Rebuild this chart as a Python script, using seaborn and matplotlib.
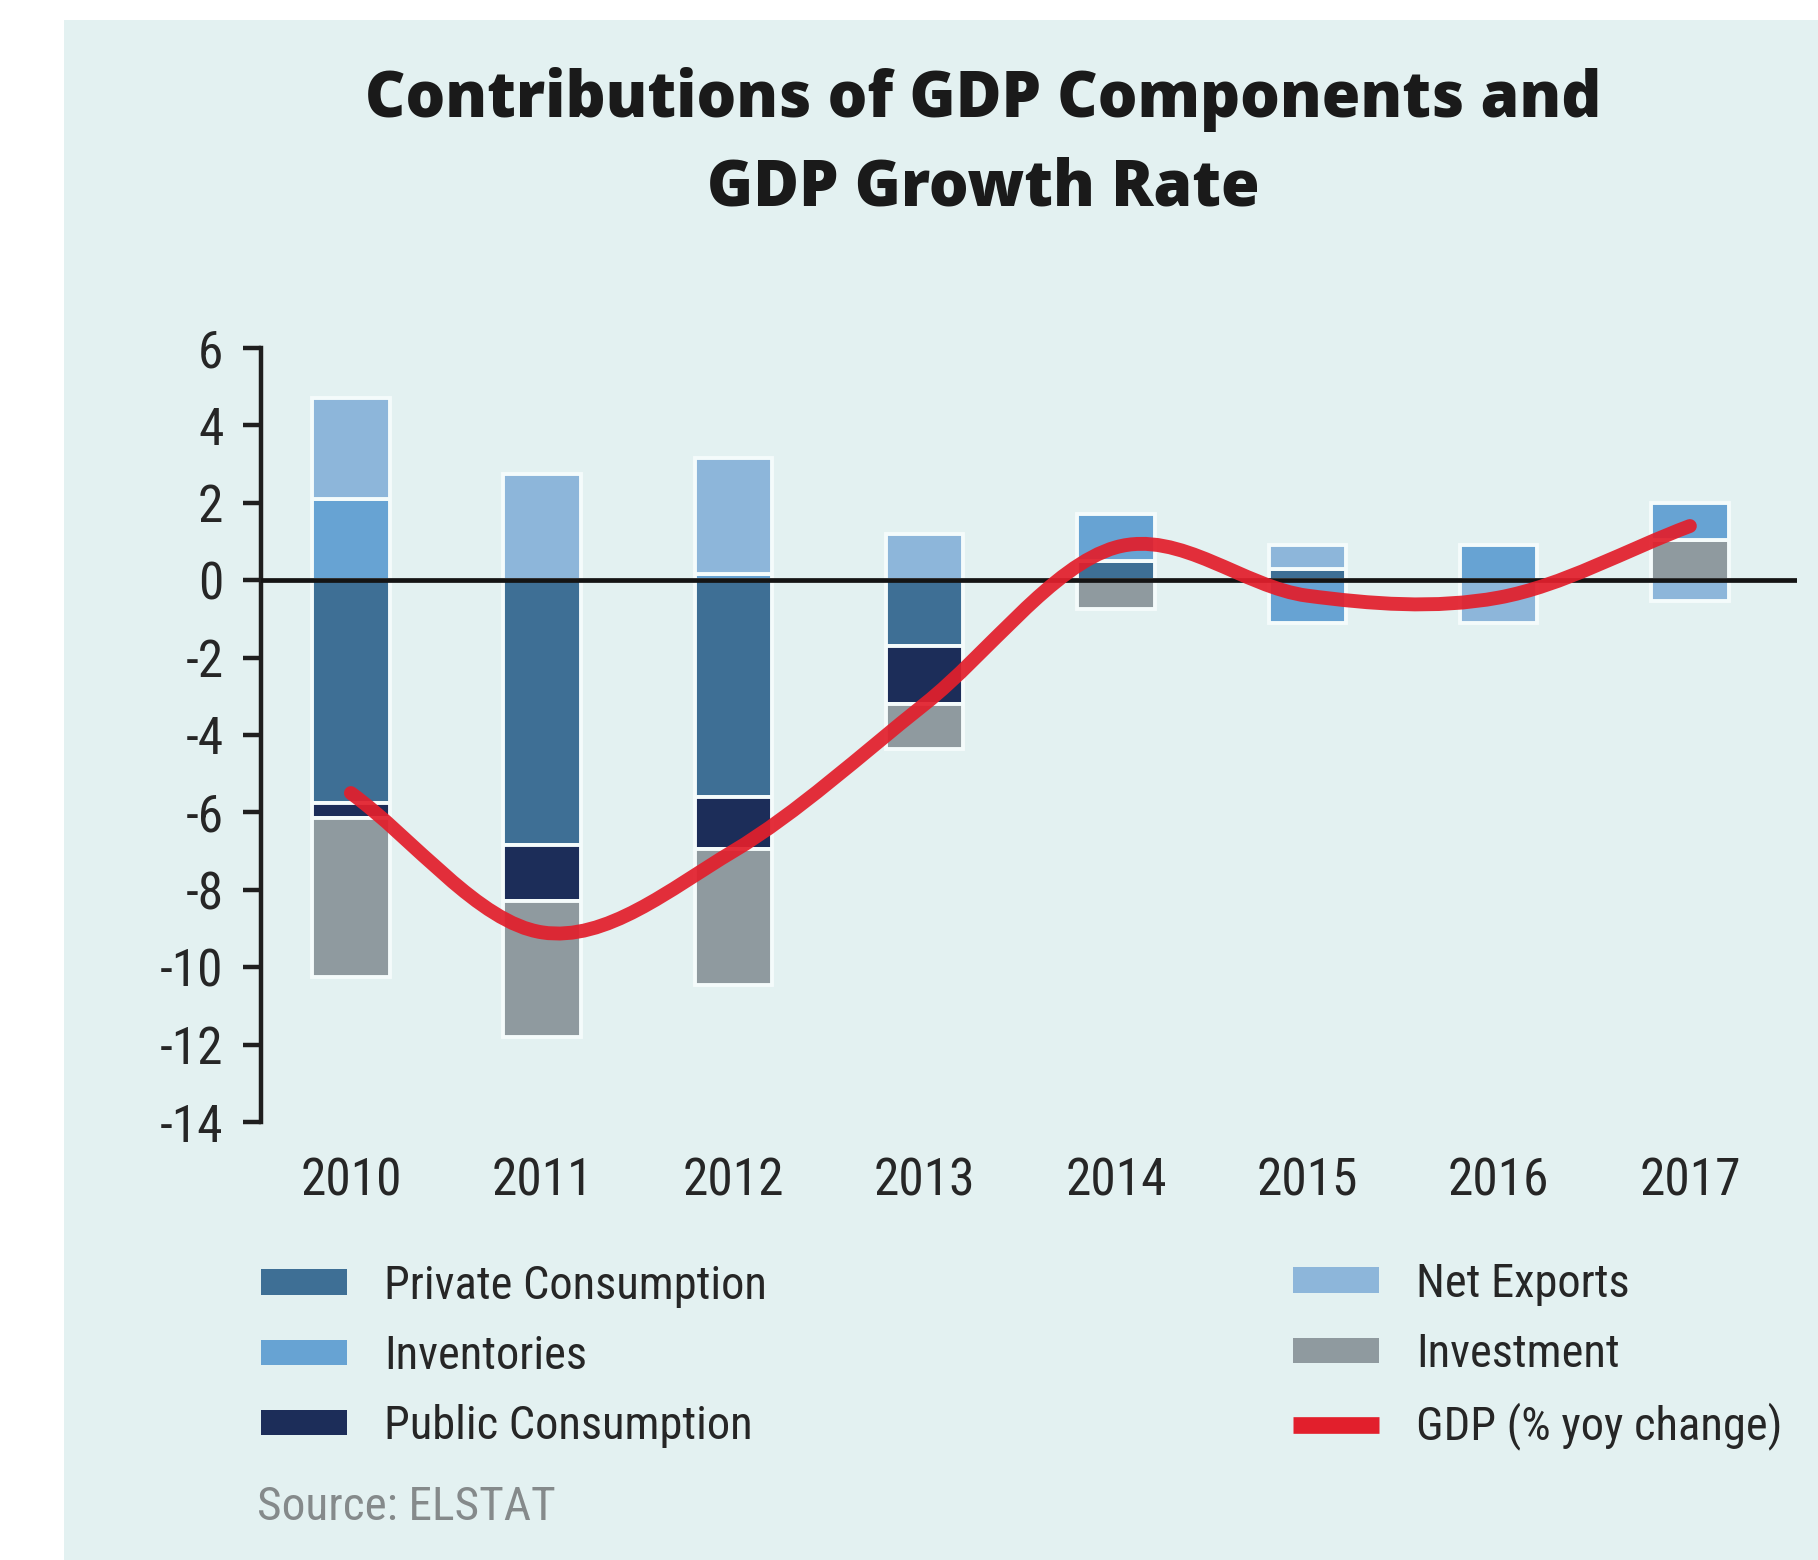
import numpy as np
import matplotlib
matplotlib.use("Agg")
import matplotlib.pyplot as plt
from matplotlib import font_manager
from matplotlib.path import Path
from matplotlib.patches import PathPatch, Patch, Rectangle
from matplotlib.lines import Line2D
import seaborn as sns

# ---- data: contributions to real GDP growth (percentage points) ----
years = ["2010", "2011", "2012", "2013", "2014", "2015", "2016", "2017"]
private_consumption = [-5.75, -6.85, -5.6, -1.7, 0.5, 0.3, 0.0, 0.0]
public_consumption = [-0.4, -1.45, -1.35, -1.5, 0.0, 0.0, 0.0, 0.0]
investment = [-4.1, -3.5, -3.5, -1.15, -0.75, 0.0, 0.0, 1.05]
inventories = [2.1, 0.0, 0.15, 0.0, 1.2, -1.1, 0.9, 0.95]
net_exports = [2.6, 2.75, 3.0, 1.2, 0.0, 0.6, -1.1, -0.55]
gdp_growth = [-5.5, -9.1, -7.0, -3.2, 0.85, -0.4, -0.45, 1.4]
y_ticks = [6, 4, 2, 0, -2, -4, -6, -8, -10, -12, -14]

series_names = ["Private Consumption", "Public Consumption", "Investment",
                "Inventories", "Net Exports"]
series_values = [private_consumption, public_consumption, investment,
                 inventories, net_exports]
series_colors = ["#3e6f95", "#1c2d59", "#8f9a9f", "#67a3d3", "#8db6da"]
gdp_color = "#e21f2c"
panel_color = "#e3f1f1"
text_color = "#262626"

# ---- fonts ----
sns.set_style("white")
available = {f.name for f in font_manager.fontManager.ttflist}
label_font = next((n for n in ["Liberation Sans Narrow", "Roboto Condensed",
                               "Liberation Sans"] if n in available), "DejaVu Sans")
title_font = "Open Sans" if "Open Sans" in available else "DejaVu Sans"
plt.rcParams["font.family"] = [label_font, "DejaVu Sans"]
plt.rcParams["axes.unicode_minus"] = False

W, H = 1818, 1560
fig = plt.figure(figsize=(W / 100, H / 100), dpi=100, facecolor="white")
fig.patches.append(Rectangle((64 / W, 0), 1, 1 - 20 / H, transform=fig.transFigure,
                             facecolor=panel_color, edgecolor="none", zorder=-10))

ax_left, ax_right, ax_top, ax_bottom = 261, 1797, 348, 1122
ax = fig.add_axes([ax_left / W, 1 - ax_bottom / H,
                   (ax_right - ax_left) / W, (ax_bottom - ax_top) / H])
ax.set_facecolor("none")

# ---- diverging stacked bars ----
pos_base = np.zeros(len(years))
neg_base = np.zeros(len(years))
for name, vals, col in zip(series_names, series_values, series_colors):
    v = np.asarray(vals, dtype=float)
    bottom = np.where(v >= 0, pos_base, neg_base)
    sns.barplot(x=years, y=v, bottom=bottom, color=col, saturation=1,
                width=0.405, errorbar=None, edgecolor="#f4fbfb", linewidth=2.8,
                ax=ax, zorder=2)
    pos_base += np.clip(v, 0, None)
    neg_base += np.clip(v, None, 0)

# hide empty segments so they leave no white edge behind
for p in ax.patches:
    if abs(p.get_height()) < 1e-9:
        p.set_visible(False)

# zero line
ax.axhline(0, color="#141414", lw=3.4, zorder=3)

# ---- smooth GDP growth curve (Catmull-Rom through the yearly values) ----
pts = np.column_stack([np.arange(len(years), dtype=float), np.asarray(gdp_growth)])
tang = np.gradient(pts, axis=0)
verts = [pts[0]]
codes = [Path.MOVETO]
for i in range(len(pts) - 1):
    verts += [pts[i] + tang[i] / 3, pts[i + 1] - tang[i + 1] / 3, pts[i + 1]]
    codes += [Path.CURVE4] * 3
ax.add_patch(PathPatch(Path(verts, codes), facecolor="none", edgecolor=gdp_color,
                       lw=10, capstyle="round", joinstyle="round", alpha=0.93,
                       zorder=5, transform=ax.transData))

# ---- axes styling ----
ax.set_xlim(-0.47, 7.56)
ax.set_ylim(-14, 6)
ax.set_yticks(y_ticks)
ax.set_yticklabels([str(t) for t in y_ticks])
ax.set_xlabel("")
ax.set_ylabel("")
for s in ["top", "right", "bottom"]:
    ax.spines[s].set_visible(False)
ax.spines["left"].set_color("#1e1e1e")
ax.spines["left"].set_linewidth(3.2)
ax.tick_params(axis="y", direction="out", length=13, width=3.2, color="#1e1e1e",
               pad=14, labelsize=37, labelcolor=text_color, left=True)
ax.tick_params(axis="x", length=0, pad=25, labelsize=37, labelcolor=text_color)

# ---- title ----
title_kw = dict(ha="center", va="center", fontsize=45, fontweight=800,
                family=[title_font, "DejaVu Sans"], color="#1a1a1a")
fig.text(983 / W, 1 - 99 / H, "Contributions of GDP Components and", **title_kw)
fig.text(983 / W, 1 - 188 / H, "GDP Growth Rate", **title_kw)

# ---- legend (two columns) ----
def patch(c):
    return Patch(facecolor=c, edgecolor="none")

left_handles = [patch(series_colors[0]), patch(series_colors[3]), patch(series_colors[1])]
left_labels = ["Private Consumption", "Inventories", "Public Consumption"]
right_handles = [patch(series_colors[4]), patch(series_colors[2]),
                 Line2D([], [], color=gdp_color, lw=12, solid_capstyle="butt")]
right_labels = ["Net Exports", "Investment", "GDP (% yoy change)"]

leg_kw = dict(loc="center left", frameon=False, fontsize=33.5, borderpad=0,
              borderaxespad=0, handlelength=1.85, handleheight=0.48,
              handletextpad=0.8, labelspacing=0.56, labelcolor=text_color)
leg1 = fig.legend(left_handles, left_labels,
                  bbox_to_anchor=(261 / W, 1 - 1356 / H), **leg_kw)
leg2 = fig.legend(right_handles, right_labels,
                  bbox_to_anchor=(1293 / W, 1 - 1356 / H), **leg_kw)

fig.text(257 / W, 1 - 1507 / H, "Source: ELSTAT", ha="left", va="center",
         fontsize=34, color="#858a8b")

fig.savefig("out.png", dpi=100, facecolor=fig.get_facecolor())
